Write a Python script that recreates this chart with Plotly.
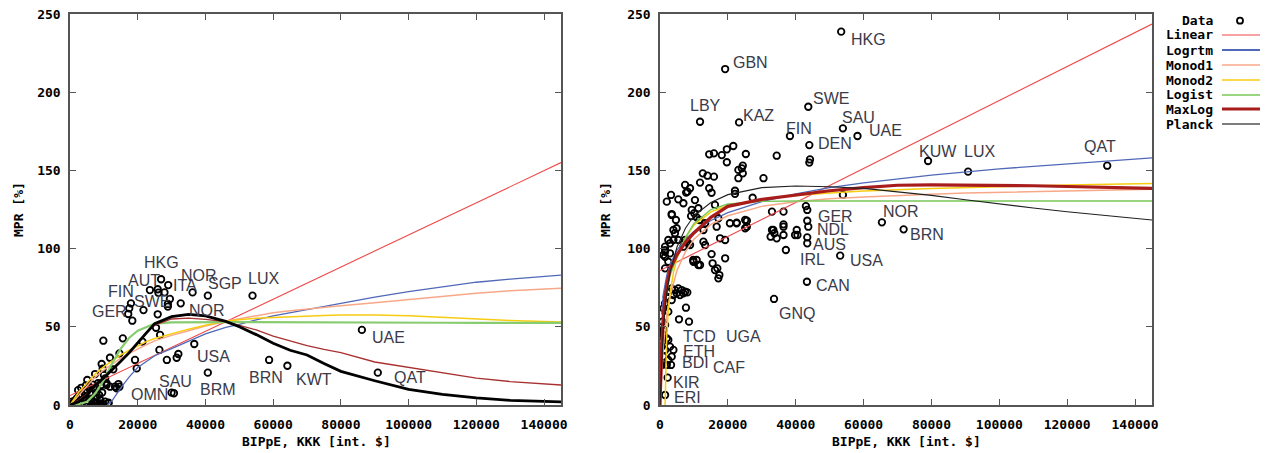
import plotly.graph_objects as go

# ---------------- DATA ----------------
# Left panel scatter points (BIPpE, MPR)
left_pts_x = [26900, 25900, 23600, 27900, 29000, 26100, 29500, 28900, 28900, 32700, 36200, 40700, 53900,
              18000, 17500, 17200, 18400, 21700, 25900, 25400, 26600, 15600, 9850, 21400, 36700, 26400,
              11800, 14600, 19200, 19700, 28600, 32000, 31500, 40700, 58800, 64200, 30000, 30700, 86200, 90900,
              9350, 7400, 5100, 10000, 14300, 13800, 11800, 12800, 10800, 11300, 10400, 9250, 8270, 7000,
              5000, 3550, 2070, 600, 7500, 8950, 10400, 11400, 9650, 13300, 14600, 10800,
              300, 1000, 1500, 2500, 3000, 3500, 4000, 4500, 5000, 5500, 6000, 6500, 7000, 7500, 8000,
              8500, 9000, 9800, 6300, 4200, 2800, 1500, 5800, 7800, 8600, 6700, 3300, 4700, 9500, 2400]
left_pts_y = [80.4, 74.0, 73.5, 72.0, 76.7, 71.8, 67.8, 64.6, 62.9, 65.0, 72.0, 69.9, 69.9,
              65.0, 61.8, 58.2, 53.9, 60.7, 58.0, 49.4, 44.8, 42.6, 41.1, 40.5, 39.0, 35.2,
              30.2, 33.0, 28.8, 23.4, 28.8, 32.6, 30.2, 20.7, 28.8, 25.1, 7.9, 7.5, 48.0, 20.7,
              26.2, 19.8, 16.0, 19.2, 13.4, 10.7, 11.7, 22.8, 13.9, 1.0, 17.0, 12.8, 13.9, 10.7,
              9.6, 6.4, 4.3, 2.1, 5.3, 3.2, 2.1, 1.5, 23.2, 11.7, 11.7, 12.8,
              0.5, 1.0, 0.3, 1.5, 2.5, 0.8, 3.5, 5.0, 1.2, 2.5, 7.0, 0.6, 2.0, 0.8, 1.5,
              0.5, 1.0, 0.6, 4.0, 8.0, 6.5, 3.0, 11.5, 8.0, 6.5, 13.0, 11.0, 12.5, 8.0, 9.5]

left_labels = ["HKG", "AUT", "NOR", "ITA", "SGP", "LUX", "FIN", "SWE", "GER", "NOR", "USA",
               "SAU", "OMN", "BRM", "BRN", "KWT", "UAE", "QAT"]
left_label_x = [21570, 16840, 32500, 30130, 40470, 52290, 10930, 18610, 6200, 34860, 37220,
                26000, 17730, 38110, 52580, 66470, 88830, 95330]
left_label_y = [90.8, 79.9, 83.1, 76.1, 77.4, 81.2, 72.3, 65.9, 60.1, 60.7, 31.3,
                15.3, 6.4, 9.6, 17.3, 16.4, 43.3, 17.7]

# Left panel fitted curves
l_lin_x = [0, 145000]
l_lin_y = [6, 155]
l_log_x = [11000, 12500, 15000, 17500, 20000, 22500, 25000, 30000, 35000, 40000, 46000, 50000, 55000,
           60000, 70000, 80000, 90000, 100000, 110000, 120000, 130000, 145000]
l_log_y = [0, 3, 11, 18, 24, 28, 31.5, 36, 41, 45.5, 49.7, 51.5, 54.5,
           57, 61, 65, 69, 72.5, 75.5, 78.5, 80.5, 83]
l_grid_x = [0, 2500, 5000, 7500, 10000, 12500, 15000, 17500, 20000, 22500, 25000, 30000, 35000, 40000,
            46000, 50000, 55000, 60000, 65000, 70000, 75000, 80000, 90000, 100000, 110000, 120000, 130000, 145000]
l_mon1_y = [0, 6, 12, 18, 22.5, 26.5, 30, 33, 36, 38.5, 41, 44.5, 47.5, 50.5,
            53.5, 55, 57, 59, 60.3, 61.5, 62.5, 63.5, 65.3, 67.5, 69.5, 71.5, 73, 74.6]
l_mon2_y = [0, 8, 14, 20, 24.5, 28.5, 32, 35, 38, 40.5, 42.5, 45.5, 48.5, 51,
            53.5, 54.5, 55.5, 56, 56.5, 57, 57.3, 57.5, 57.5, 57, 56, 55, 54, 53]
l_logi_y = [0, 0.5, 2, 7.5, 16, 27, 36, 43, 47.5, 50, 52, 52.8, 53, 53,
            53, 53, 53, 53, 53, 53, 53, 52.8, 52.8, 52.7, 52.6, 52.5, 52.5, 52.5]
l_maxl_y = [0, 3, 7, 12, 17, 22, 28, 34, 40, 46, 51, 55, 55.5, 54.8,
            53.3, 51, 48, 44, 41, 38, 35.5, 33.5, 27.5, 24, 20.5, 17.2, 15, 12.8]
l_plan_y = [0, 2, 6, 12.8, 17.5, 22.5, 28, 33.5, 40, 46, 52, 56.5, 58, 57,
            53.5, 50, 45, 39.5, 35, 32, 26.5, 21.5, 15.5, 10, 6.8, 4.5, 3, 2]

# Right panel scatter points
right_pts_x = [53400, 19200, 11800, 23300, 43700, 53900, 58200, 38300, 44000, 44200, 44000, 34400, 25300,
               21600, 19700, 18200, 19700, 15900, 14500, 24400, 24100, 23100, 24400, 23100, 30500, 12600,
               14000, 15900, 11800, 7400, 8850, 8100, 14500, 15200, 3250, 5400, 10300, 22100, 22100, 27300,
               53900, 79000, 90800, 131800,
               7700, 2000, 6900, 3450, 9350, 10100, 10800, 11300, 9150, 11600, 16200, 17200, 16700, 13300,
               12800, 4900, 4400, 1500, 2950, 2450, 7400, 8350, 12800, 13300, 17700, 19200, 22600, 25100,
               19200, 33000, 36400, 33000, 33700, 36400, 36400, 25100,
               4700, 3450, 1500, 2450, 1500, 1000, 3950, 5400, 3950, 9850, 11800, 7900, 8850, 6900, 15200,
               15500, 16200, 16900, 17500, 17200, 10800,
               3450, 4400, 5400, 6400, 7400, 8050, 4900, 5900, 3950, 6900, 2450, 2000, 3450, 1500, 1000,
               2450, 7650, 5600, 8550,
               33600, 43300, 53100, 43400, 43400, 43700, 43400, 43000, 43400, 37100, 36400, 33400, 32600,
               34400, 40300, 40500, 39800, 25600, 25600, 22600, 20600, 65400, 71800,
               1500, 2250, 1000, 2000, 700, 2450, 500, 1500, 2950, 3950, 3450, 1000, 2450, 500, 2000, 3250,
               1000, 1500, 700, 9800, 11300, 1500, 2950, 1500]
right_pts_y = [238.7, 214.8, 181.1, 180.7, 190.7, 176.9, 172.0, 172.0, 166.2, 157.0, 155.0, 159.4, 160.5,
               165.6, 163.5, 159.8, 155.2, 160.9, 160.3, 153.0, 151.3, 150.3, 148.1, 145.0, 145.0, 148.1,
               146.6, 146.0, 142.2, 140.7, 138.6, 136.4, 138.6, 135.7, 134.3, 131.5, 131.0, 137.0, 135.0, 132.5,
               134.3, 156.0, 149.2, 153.0,
               135.8, 130.0, 129.0, 121.5, 124.7, 122.6, 120.0, 125.8, 120.8, 118.3, 127.9, 119.4, 114.0, 116.2,
               111.9, 113.0, 109.8, 101.2, 103.4, 105.5, 105.5, 103.4, 104.4, 102.3, 106.6, 105.5, 116.2, 118.3,
               93.8, 123.6, 123.6, 111.9, 109.8, 114.0, 108.7, 113.0,
               118.3, 122.1, 99.0, 91.6, 87.4, 95.9, 111.9, 105.5, 105.5, 91.6, 89.5, 104.4, 102.3, 101.2, 96.5,
               90.6, 86.3, 87.4, 83.1, 81.0, 92.7,
               74.6, 73.5, 74.6, 73.5, 72.4, 72.0, 71.4, 70.3, 70.3, 71.4, 72.4, 69.2, 67.1, 65.0, 61.8,
               59.7, 62.2, 54.8, 53.3,
               67.8, 78.8, 95.5, 103.4, 107.2, 114.0, 117.8, 127.2, 124.7, 99.1, 115.5, 111.9, 107.6,
               106.6, 111.9, 108.7, 108.7, 117.8, 114.0, 116.6, 116.2, 116.8, 112.3,
               6.4, 17.5, 44.8, 42.6, 40.5, 41.6, 37.3, 35.2, 37.3, 35.2, 30.9, 30.9, 28.8, 25.6, 25.6, 25.6,
               48.0, 51.2, 53.3, 92.7, 89.5, 98.0, 97.0, 94.8]

right_labels = ["HKG", "GBN", "LBY", "KAZ", "SWE", "SAU", "UAE", "FIN", "DEN", "KUW", "LUX", "QAT",
                "GER", "NDL", "AUS", "IRL", "USA", "CAN", "GNQ", "NOR", "BRN",
                "TCD", "UGA", "ETH", "BDI", "CAF", "KIR", "ERI"]
right_label_x = [56050, 21240, 8550, 24190, 44840, 53390, 61360, 36870, 46310, 76110, 89380, 124780,
                 46310, 46020, 44840, 41000, 55750, 45720, 34810, 65490, 73450,
                 6490, 19170, 6490, 6190, 15340, 3540, 3830]
right_label_y = [234.0, 218.7, 191.2, 185.4, 195.7, 184.1, 175.2, 177.1, 166.9, 161.8, 161.8, 165.0,
                 120.8, 112.5, 102.9, 93.3, 92.7, 76.1, 58.8, 124.0, 109.3,
                 44.1, 44.1, 33.9, 26.9, 23.7, 14.7, 5.1]

# Right panel fitted curves
r_lin_x = [0, 145000]
r_lin_y = [86, 243.6]
r_grid_x = [0, 250, 500, 1000, 2000, 3000, 5000, 7500, 10000, 15000, 20000, 30000, 40000, 50000, 60000,
            70000, 80000, 90000, 100000, 110000, 120000, 130000, 145000]
r_log_x = [500, 1000, 2000, 3000, 5000, 7500, 10000, 15000, 20000, 30000, 40000, 50000, 60000,
           80000, 100000, 120000, 145000]
r_log_y = [58, 71, 83, 90, 99, 106, 111, 118, 123, 130, 135, 139, 142, 147, 151, 154, 158]
r_mon1_y = [0, 10, 20, 38, 58, 70, 86, 98, 106, 115.5, 121, 127, 130, 131.8, 133,
            134, 134.8, 135.5, 136, 136.5, 136.9, 137.3, 137.9]
r_mon2_x = [1500, 1700, 2000, 2500, 3000, 4000, 5000, 7500, 10000, 15000, 20000, 30000, 40000, 50000,
            60000, 80000, 100000, 120000, 145000]
r_mon2_y = [0, 25, 45, 62, 72, 85, 94, 107, 115, 123.5, 127.5, 131.5, 134, 135.5,
            136.8, 138.5, 139.7, 140.7, 141.7]
r_logi_y = [30, 36, 42, 56, 72, 83, 95, 107, 116, 125, 128.5, 130.2, 130.4, 130.4, 130.4,
            130.4, 130.4, 130.4, 130.4, 130.4, 130.4, 130.4, 130.4]
r_maxl_y = [0, 20, 38, 58, 77, 87, 96, 104, 110, 120, 127, 131.5, 134.5, 137, 139,
            140.5, 140.7, 140.7, 140.5, 140.2, 139.7, 139.2, 138.5]
r_plan_y = [0, 15, 30, 50, 72, 85, 101, 113, 121, 129.5, 134.5, 139, 140, 139.5, 138.5,
            136.4, 134, 131.2, 128.5, 126, 123.6, 121.3, 118.3]

legend_names = ["Linear", "Logrtm", "Monod1", "Monod2", "Logist", "MaxLog", "Planck"]
legend_colors = ["#f04848", "#5068b8", "#f8a888", "#f8cc10", "#78c858", "#a81c1c", "#505050"]
legend_widths = [1.2, 1.8, 1.5, 1.5, 1.5, 3.2, 1.5]

# ---------------- FIGURE ----------------
W, H = 1265, 453
LBL_FONT = dict(family="Liberation Sans, Arial, sans-serif", size=16, color="#3a3a48")
MONO = dict(family="DejaVu Sans Mono, monospace", size=13, color="black", weight="bold")

C_LIN, C_LOG, C_M1, C_M2, C_LGI, C_MAX, C_PL = legend_colors

fig = go.Figure()

def line(x, y, color, width, xa, ya):
    fig.add_trace(go.Scatter(x=x, y=y, mode="lines", line=dict(color=color, width=width),
                             xaxis=xa, yaxis=ya, showlegend=False, hoverinfo="skip"))

def points(x, y, xa, ya):
    fig.add_trace(go.Scatter(x=x, y=y, mode="markers", xaxis=xa, yaxis=ya, showlegend=False,
                             marker=dict(symbol="circle-open", size=6.5, color="black",
                                         line=dict(width=1.8, color="black"))))

# left panel
points(left_pts_x, left_pts_y, "x", "y")
line(l_lin_x, l_lin_y, C_LIN, 1.1, "x", "y")
line(l_log_x, l_log_y, C_LOG, 1.3, "x", "y")
line(l_grid_x, l_mon1_y, C_M1, 1.5, "x", "y")
line(l_grid_x, l_mon2_y, C_M2, 1.5, "x", "y")
line(l_grid_x, l_logi_y, "#88cc70", 2.2, "x", "y")
line(l_grid_x, l_maxl_y, "#a83030", 1.3, "x", "y")
line(l_grid_x, l_plan_y, "#000000", 2.8, "x", "y")

# right panel
points(right_pts_x, right_pts_y, "x2", "y2")
line(r_lin_x, r_lin_y, C_LIN, 1.1, "x2", "y2")
line(r_log_x, r_log_y, C_LOG, 1.3, "x2", "y2")
line(r_grid_x, r_mon1_y, C_M1, 1.5, "x2", "y2")
line(r_mon2_x, r_mon2_y, C_M2, 1.5, "x2", "y2")
line(r_grid_x, r_logi_y, C_LGI, 1.4, "x2", "y2")
line(r_grid_x, r_maxl_y, C_MAX, 3.2, "x2", "y2")
line(r_grid_x, r_plan_y, "#202020", 1.1, "x2", "y2")

annotations = []
for t, x, y in zip(left_labels, left_label_x, left_label_y):
    annotations.append(dict(text=t, x=x, y=y, xref="x", yref="y", xanchor="left", yanchor="middle",
                            showarrow=False, font=LBL_FONT, borderpad=0))
for t, x, y in zip(right_labels, right_label_x, right_label_y):
    annotations.append(dict(text=t, x=x, y=y, xref="x2", yref="y2", xanchor="left", yanchor="middle",
                            showarrow=False, font=LBL_FONT, borderpad=0))

# axis titles
for xc in (316, 906):
    annotations.append(dict(text="BIPpE, KKK [int. $]", x=xc / W, y=1 - 441 / H, xref="paper", yref="paper",
                            xanchor="center", yanchor="middle", showarrow=False, font=MONO))
for xc in (19, 606):
    annotations.append(dict(text="MPR [%]", x=xc / W, y=1 - 210 / H, xref="paper", yref="paper",
                            xanchor="center", yanchor="middle", showarrow=False, font=MONO, textangle=-90))

# custom legend (text right-aligned, sample on the right)
shapes = []
leg_rows = [20.7, 35, 50, 65, 80, 95, 109, 124]
annotations.append(dict(text="Data", x=1215 / W, y=1 - leg_rows[0] / H, xref="paper", yref="paper",
                        xanchor="right", yanchor="middle", showarrow=False, font=MONO))
shapes.append(dict(type="circle", xref="paper", yref="paper", xsizemode="pixel", ysizemode="pixel",
                   xanchor=1240 / W, yanchor=1 - leg_rows[0] / H, x0=-3, x1=3, y0=-3, y1=3,
                   line=dict(color="black", width=1.8)))
for name, col, wd, ry in zip(legend_names, legend_colors, legend_widths, leg_rows[1:]):
    annotations.append(dict(text=name, x=1215 / W, y=1 - ry / H, xref="paper", yref="paper",
                            xanchor="right", yanchor="middle", showarrow=False, font=MONO))
    shapes.append(dict(type="line", xref="paper", yref="paper", x0=1222 / W, x1=1260 / W,
                       y0=1 - ry / H, y1=1 - ry / H, line=dict(color=col, width=wd)))

axis_common = dict(showgrid=False, zeroline=False, showline=True, linecolor="#555555", linewidth=1.5,
                   mirror="ticks", ticks="inside", ticklen=6, tickwidth=1.2, tickcolor="#555555",
                   tickfont=MONO, automargin=False)
yd = [1 - 405 / H, 1 - 14 / H]
xt = [0, 20000, 40000, 60000, 80000, 100000, 120000, 140000]
xtt = ["0", "20000", "40000", "60000", "80000", "100000", "120000", "140000"]
fig.update_layout(
    width=W, height=H, margin=dict(l=0, r=0, t=0, b=0, pad=0, autoexpand=False),
    paper_bgcolor="white", plot_bgcolor="white", showlegend=False,
    xaxis=dict(domain=[70 / W, 561 / W], range=[0, 145000], tickvals=xt, ticktext=xtt, anchor="y",
               ticklabelstandoff=7, **axis_common),
    yaxis=dict(domain=yd, range=[0, 250], tickvals=[0, 50, 100, 150, 200, 250], anchor="x",
               ticklabelstandoff=5, **axis_common),
    xaxis2=dict(domain=[660 / W, 1152 / W], range=[0, 145000], tickvals=xt, ticktext=xtt, anchor="y2",
                ticklabelstandoff=7, **axis_common),
    yaxis2=dict(domain=yd, range=[0, 250], tickvals=[0, 50, 100, 150, 200, 250], anchor="x2",
                ticklabelstandoff=5, **axis_common),
    annotations=annotations, shapes=shapes,
)

fig.write_html("out.html")
